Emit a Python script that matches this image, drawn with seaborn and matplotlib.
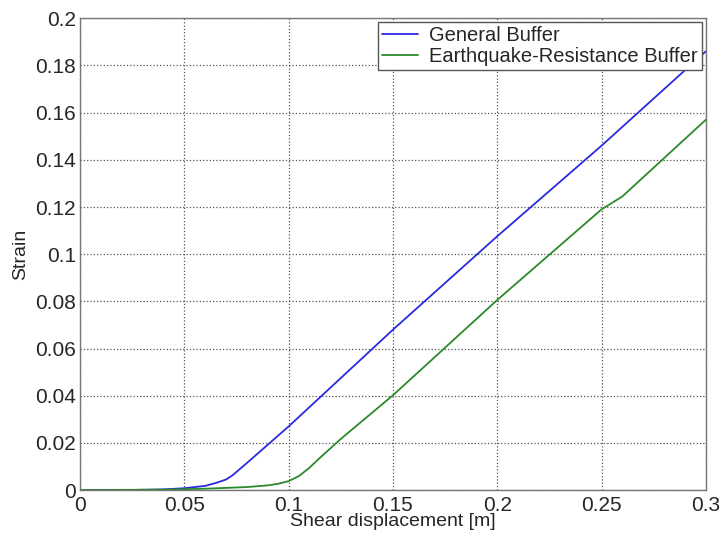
import seaborn as sns
import matplotlib.pyplot as plt
import pandas as pd

# values
x_general = [0.0, 0.02, 0.04, 0.05, 0.06, 0.065, 0.07, 0.073, 0.08, 0.1, 0.15, 0.2, 0.25, 0.3]
y_general = [0.0, 0.0, 0.0003, 0.0008, 0.0018, 0.003, 0.0045, 0.0062, 0.0115, 0.027, 0.068, 0.1076, 0.146, 0.186]

x_quake = [0.0, 0.04, 0.06, 0.08, 0.09, 0.095, 0.1, 0.105, 0.11, 0.115, 0.12, 0.125, 0.15, 0.2, 0.25, 0.26, 0.3]
y_quake = [0.0, 0.0002, 0.0006, 0.0013, 0.002, 0.0027, 0.0038, 0.0060, 0.0095, 0.0137, 0.0177, 0.0217, 0.0402, 0.0806, 0.119, 0.1245, 0.157]

labels = ["General Buffer", "Earthquake-Resistance Buffer"]

df = pd.concat([
    pd.DataFrame({"x": x_general, "y": y_general, "series": labels[0]}),
    pd.DataFrame({"x": x_quake, "y": y_quake, "series": labels[1]}),
])

sns.set_style("white")
plt.rcParams["font.family"] = ["Liberation Sans", "DejaVu Sans"]

fig, ax = plt.subplots(figsize=(7.21, 5.38), dpi=100)
fig.subplots_adjust(left=0.111, right=0.979, top=0.966, bottom=0.089)

sns.lineplot(data=df, x="x", y="y", hue="series", hue_order=labels,
             palette=["#2a2adf", "#2a8a2a"], linewidth=1.3, ax=ax, sort=False)

ax.set_xlim(0, 0.3)
ax.set_ylim(0, 0.2)
ax.set_xticks([0, 0.05, 0.1, 0.15, 0.2, 0.25, 0.3])
ax.set_xticklabels(["0", "0.05", "0.1", "0.15", "0.2", "0.25", "0.3"])
ax.set_yticks([0, 0.02, 0.04, 0.06, 0.08, 0.1, 0.12, 0.14, 0.16, 0.18, 0.2])
ax.set_yticklabels(["0", "0.02", "0.04", "0.06", "0.08", "0.1", "0.12", "0.14",
                    "0.16", "0.18", "0.2"])
ax.grid(True, linestyle=":", color="#555555", linewidth=0.9)
ax.tick_params(direction="in", length=4, labelsize=15, color="#666666")
ax.tick_params(axis="x", pad=4)
ax.tick_params(axis="y", pad=3)
for s in ax.spines.values():
    s.set_color("#777777")
    s.set_linewidth(1.0)

ax.set_xlabel("Shear displacement [m]", size=14, labelpad=-1)
ax.set_ylabel("Strain", size=14, labelpad=4)

ax.legend(loc="upper right", fontsize=14.5, frameon=True, fancybox=False,
          edgecolor="#555555", framealpha=1, borderaxespad=0.2,
          handlelength=1.8, handletextpad=0.55, borderpad=0.2, labelspacing=0.1)

plt.savefig("out.png", dpi=100)
